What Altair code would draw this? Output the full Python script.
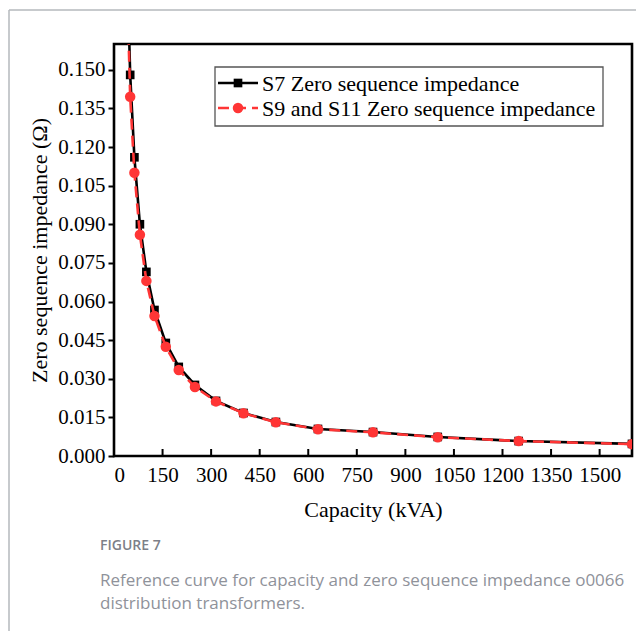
import altair as alt
import pandas as pd

capacity = [30, 50, 63, 80, 100, 125, 160, 200, 250, 315, 400, 500, 630, 800, 1000, 1250, 1600]
s7_imp = [0.240, 0.148, 0.116, 0.090, 0.0715, 0.0567, 0.0439, 0.0346, 0.0276, 0.0214,
          0.0167, 0.0132, 0.0105, 0.0093, 0.0074, 0.0058, 0.0047]
s9_imp = [0.230, 0.1395, 0.110, 0.0859, 0.068, 0.0544, 0.0424, 0.0334, 0.0268, 0.0212,
          0.0166, 0.0131, 0.0104, 0.0092, 0.0073, 0.0058, 0.0046]
series_names = ["S7 Zero sequence impedance", "S9 and S11 Zero sequence impedance"]
x_ticks = [0, 150, 300, 450, 600, 750, 900, 1050, 1200, 1350, 1500]
y_ticks = [0.0, 0.015, 0.03, 0.045, 0.06, 0.075, 0.09, 0.105, 0.12, 0.135, 0.15]
caption_head = "FIGURE 7"
caption_lines = ["Reference curve for capacity and zero sequence impedance o0066",
                 "distribution transformers."]

W, H = 518, 412
BLACK = "#000000"
RED = "#FF3535"
SERIF = "Liberation Serif"

df7 = pd.DataFrame({"cap": capacity, "imp": s7_imp})
df9 = pd.DataFrame({"cap": capacity, "imp": s9_imp})

xscale = alt.Scale(domain=[0, 1600], nice=False, zero=False)
yscale = alt.Scale(domain=[0, 0.16], nice=False)

xenc = alt.X("cap:Q", scale=xscale,
             axis=alt.Axis(values=x_ticks, format="d", title="Capacity (kVA)", tickSize=0,
                           labelPadding=8, titlePadding=14, grid=False, domain=False))
yenc = alt.Y("imp:Q", scale=yscale,
             axis=alt.Axis(values=y_ticks, format=".3f", title="Zero sequence impedance (\u03a9)",
                           tickSize=6, tickWidth=2, tickColor=BLACK, labelPadding=3,
                           titlePadding=6, grid=False, domain=False))

line7 = alt.Chart(df7).mark_line(color=BLACK, strokeWidth=2.6, clip=True).encode(x=xenc, y=yenc)
pts7 = alt.Chart(df7).mark_point(shape="square", filled=True, color=BLACK, size=75, opacity=1,
                                 clip=True).encode(x="cap:Q", y="imp:Q")
line9 = alt.Chart(df9).mark_line(color=RED, strokeWidth=2.6, strokeDash=[11, 6], clip=True).encode(
    x="cap:Q", y="imp:Q")
pts9 = alt.Chart(df9).mark_point(shape="circle", filled=True, color=RED, size=110, opacity=1,
                                 clip=True).encode(x="cap:Q", y="imp:Q")

# inward x ticks
xt = pd.DataFrame({"cap": x_ticks[1:]})
xtick_layer = alt.Chart(xt).mark_rule(color=BLACK, strokeWidth=2).encode(
    x="cap:Q", y=alt.value(H), y2=alt.value(H - 7))

one = pd.DataFrame({"a": [0]})

# legend
leg_box = alt.Chart(one).mark_rect(fill="white", stroke="#555555", strokeWidth=1.3).encode(
    x=alt.value(101), x2=alt.value(489), y=alt.value(23), y2=alt.value(82))
leg_l1 = alt.Chart(one).mark_rule(color=BLACK, strokeWidth=2.6).encode(
    x=alt.value(104), x2=alt.value(144), y=alt.value(39))
leg_p1 = alt.Chart(one).mark_point(shape="square", filled=True, color=BLACK, size=75, opacity=1).encode(
    x=alt.value(124), y=alt.value(39))
leg_l2 = alt.Chart(one).mark_rule(color=RED, strokeWidth=2.6, strokeDash=[11, 6]).encode(
    x=alt.value(104), x2=alt.value(144), y=alt.value(64))
leg_p2 = alt.Chart(one).mark_point(shape="circle", filled=True, color=RED, size=110, opacity=1).encode(
    x=alt.value(124), y=alt.value(64))
leg_t1 = alt.Chart(one).mark_text(text=series_names[0], align="left", baseline="middle", font=SERIF,
                                  fontSize=22, color=BLACK).encode(x=alt.value(148), y=alt.value(40))
leg_t2 = alt.Chart(one).mark_text(text=series_names[1], align="left", baseline="middle", font=SERIF,
                                  fontSize=22, color=BLACK).encode(x=alt.value(148), y=alt.value(65))

# card frame
frame_left = alt.Chart(one).mark_rule(color="#b5b8bd", strokeWidth=1.5).encode(
    x=alt.value(-105), y=alt.value(-34), y2=alt.value(595))
frame_top = alt.Chart(one).mark_rule(color="#b5b8bd", strokeWidth=1.5).encode(
    x=alt.value(-105), x2=alt.value(540), y=alt.value(-34))

# caption
cap_head = alt.Chart(one).mark_text(text=caption_head, align="left", baseline="middle", font="Open Sans",
                                    fontSize=14, fontWeight=600, color="#7d8088").encode(
    x=alt.value(-14), y=alt.value(502))
cap_l1 = alt.Chart(one).mark_text(text=caption_lines[0], align="left", baseline="middle", font="Open Sans",
                                  fontSize=17, color="#8f929a").encode(x=alt.value(-14), y=alt.value(537))
cap_l2 = alt.Chart(one).mark_text(text=caption_lines[1], align="left", baseline="middle", font="Open Sans",
                                  fontSize=17, color="#8f929a").encode(x=alt.value(-14), y=alt.value(560))

chart = alt.layer(
    frame_left, frame_top,
    line7, pts7, line9, pts9, xtick_layer,
    leg_box, leg_l1, leg_p1, leg_l2, leg_p2, leg_t1, leg_t2,
    cap_head, cap_l1, cap_l2,
).properties(
    width=W, height=H,
    autosize=alt.AutoSizeParams(type="none"),
    padding={"left": 106, "top": 36, "right": 4, "bottom": 175},
    background="white",
).configure_view(
    stroke=BLACK, strokeWidth=2.6
).configure_axis(
    labelFont=SERIF, labelFontSize=21, labelColor=BLACK,
    titleFont=SERIF, titleFontSize=22, titleColor=BLACK, titleFontWeight="normal",
)

chart.save("out.html", embed_options={"renderer": "svg", "actions": False})
